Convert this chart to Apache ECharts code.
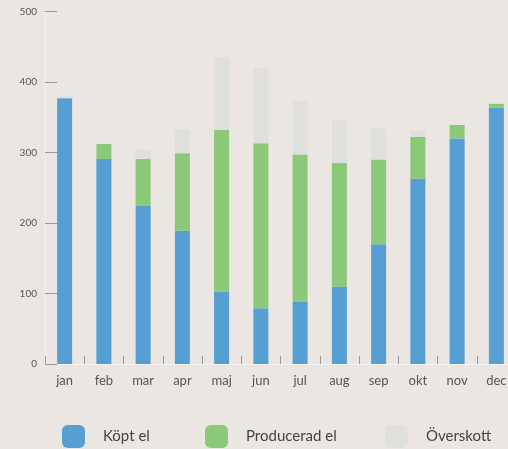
<!DOCTYPE html>
<html>
<head>
<meta charset="utf-8">
<script src="https://cdn.jsdelivr.net/npm/echarts@6/dist/echarts.min.js"></script>
<style>
html,body{margin:0;padding:0;background:#ebe6e2;}
#c{width:508px;height:449px;}
</style>
</head>
<body>
<div id="c"></div>
<script>
var categories = ['jan','feb','mar','apr','maj','jun','jul','aug','sep','okt','nov','dec'];
var kopt = [377, 291, 224, 189, 103, 79, 88, 110, 170, 263, 320, 364];
var producerad = [0, 21, 67, 110, 229, 234, 209, 175, 120, 59, 19, 5];
var overskott = [3, 0, 13, 34, 103, 107, 75, 61, 44, 9, 0, 0];
var yTicks = [0, 100, 200, 300, 400, 500];
var seriesNames = ['Köpt el', 'Producerad el', 'Överskott'];
var colors = ['#559fd2', '#8bc978', '#dfdfdd'];

var chart = echarts.init(document.getElementById('c'));
var font = 'Lato, "Open Sans", sans-serif';
function legendAt(name, left) {
  return {
    data: [name], left: left, top: 425, padding: 0, orient: 'horizontal',
    itemWidth: 23, itemHeight: 23, icon: 'roundRect',
    selectedMode: false,
    textStyle: { fontSize: 15, color: '#444', fontFamily: font, padding: [0, 0, 0, 13] }
  };
}
chart.setOption({
  backgroundColor: '#ebe6e2',
  animation: false,
  grid: { left: 45, width: 471, top: 11.5, bottom: 85, containLabel: false, outerBoundsMode: 'none' },
  legend: [legendAt(seriesNames[0], 62), legendAt(seriesNames[1], 205), legendAt(seriesNames[2], 385)],
  xAxis: {
    type: 'category', data: categories,
    axisLine: { lineStyle: { color: '#f5f3f1', width: 1 } },
    axisTick: { show: true, inside: true, length: 8, lineStyle: { color: '#9a9a9a' } },
    axisLabel: { color: '#555', fontSize: 13, fontFamily: font, margin: 10 }
  },
  yAxis: {
    type: 'value', min: yTicks[0], max: yTicks[yTicks.length - 1], interval: 100,
    splitLine: { show: false },
    axisLine: { show: true, lineStyle: { color: '#f3f1ef' } },
    axisTick: { show: true, inside: true, length: 12, lineStyle: { color: '#999' } },
    axisLabel: { color: '#555', fontSize: 10, fontFamily: font, margin: 8, padding: [8, 0, 0, 0] }
  },
  series: [
    { name: seriesNames[0], type: 'bar', stack: 'a', data: kopt, barWidth: 15, itemStyle: { color: colors[0] } },
    { name: seriesNames[1], type: 'bar', stack: 'a', data: producerad, barWidth: 15, itemStyle: { color: colors[1] } },
    { name: seriesNames[2], type: 'bar', stack: 'a', data: overskott, barWidth: 15, itemStyle: { color: colors[2] } }
  ]
});
</script>
</body>
</html>
